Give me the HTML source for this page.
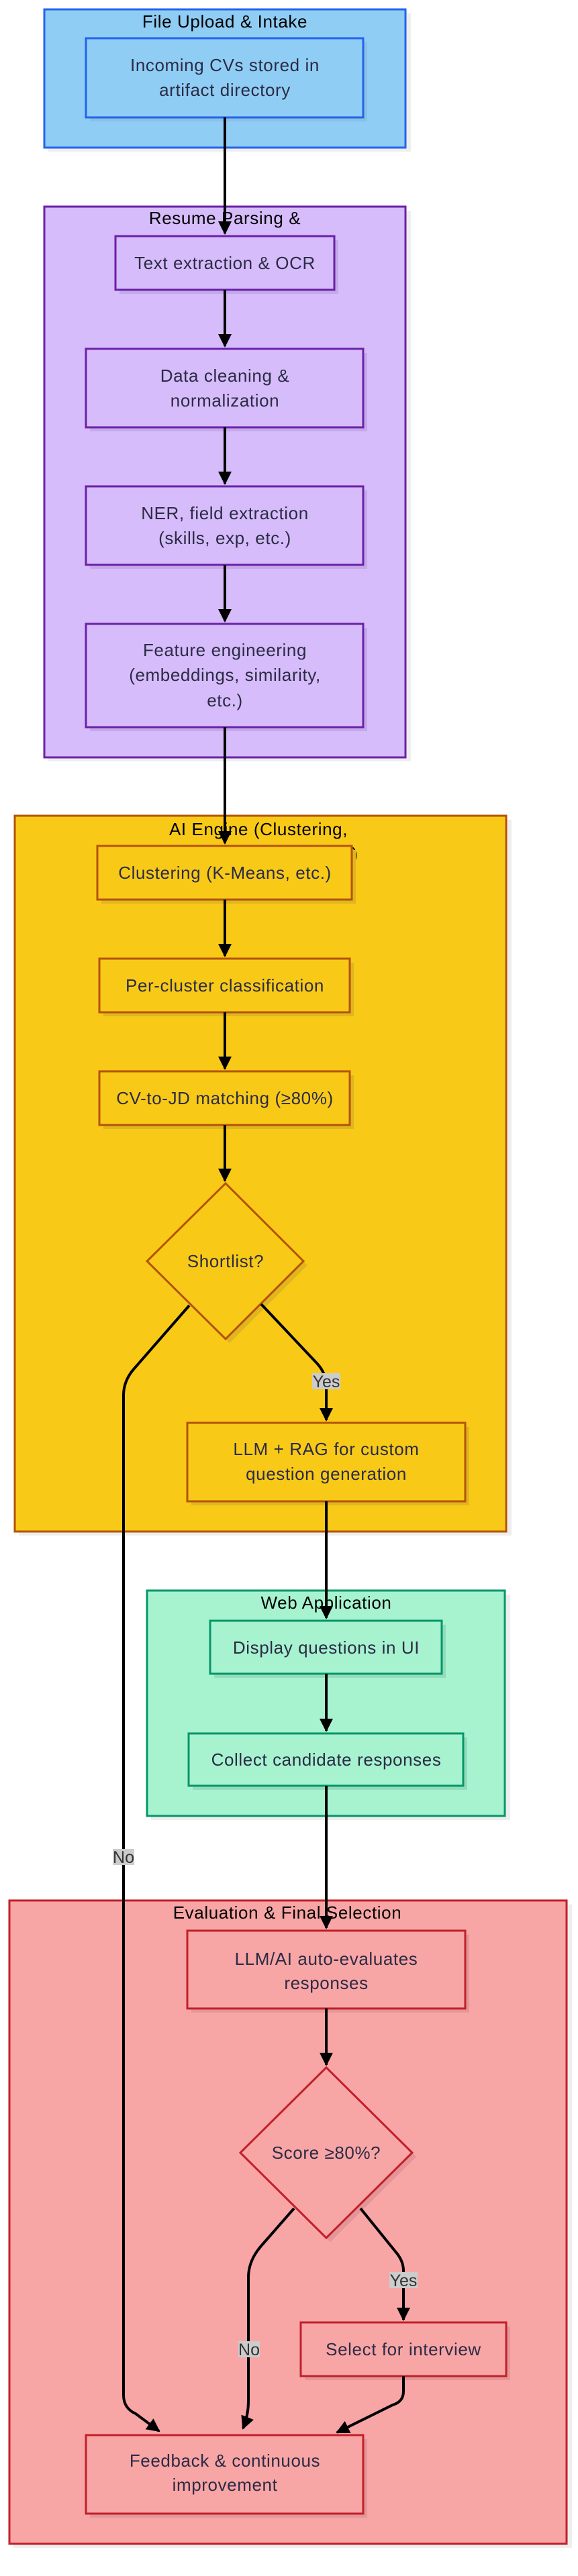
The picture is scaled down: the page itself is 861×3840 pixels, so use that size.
<!DOCTYPE html>
<html><head><meta charset="utf-8"><style>
html,body{margin:0;padding:0;background:#fff;}
svg{display:block;}
text{font-family:"Liberation Sans",sans-serif;}
.n{font-size:26px;fill:#2b2b45;text-anchor:middle;letter-spacing:0.6px;}
.t{font-size:26px;fill:#000;text-anchor:middle;letter-spacing:0.6px;}
.l{font-size:25px;fill:#333;text-anchor:middle;}
.e{stroke:#000;stroke-width:4;fill:none;}
</style></head><body>
<svg width="861" height="3840" viewBox="0 0 861 3840" xmlns="http://www.w3.org/2000/svg">
<defs>
<marker id="a" viewBox="0 0 10 10" refX="9" refY="5" markerWidth="5" markerHeight="5" orient="auto-start-reverse" markerUnits="strokeWidth"><path d="M0,0 L10,5 L0,10 z" fill="#000"/></marker>
</defs>

<g fill="#eeeeee">
<rect x="72" y="20" width="540" height="206"/>
<rect x="72" y="314" width="540" height="821"/>
<rect x="28" y="1222" width="734" height="1067"/>
<rect x="225" y="2377" width="535" height="336"/>
<rect x="20" y="2839" width="832" height="959"/>
</g>

<rect x="66" y="14" width="538" height="206" fill="#90cdf4" stroke="#2563eb" stroke-width="3"/>
<text class="t" x="335" y="41">File Upload &amp; Intake</text>
<rect x="134" y="63" width="413" height="118" fill="#7fb6d8" opacity="0.5"/>
<rect x="128" y="57" width="413" height="118" fill="#90cdf4" stroke="#2563eb" stroke-width="3"/>
<text class="n" x="335" y="106">Incoming CVs stored in</text>
<text class="n" x="335" y="143">artifact directory</text>

<rect x="66" y="308" width="538" height="821" fill="#d6bcfa" stroke="#6b21a8" stroke-width="3"/>
<text class="t" x="335" y="334">Resume Parsing &amp;</text>
<g fill="#c4a9ea">
<rect x="178" y="358" width="326" height="80"/>
<rect x="134" y="526" width="413" height="117"/>
<rect x="134" y="731" width="413" height="117"/>
<rect x="134" y="936" width="413" height="154"/>
</g>
<g fill="#d6bcfa" stroke="#6b21a8" stroke-width="3">
<rect x="172" y="352" width="326" height="80"/>
<rect x="128" y="520" width="413" height="117"/>
<rect x="128" y="725" width="413" height="117"/>
<rect x="128" y="930" width="413" height="154"/>
</g>
<text class="n" x="335" y="401">Text extraction &amp; OCR</text>
<text class="n" x="335" y="569">Data cleaning &amp;</text>
<text class="n" x="335" y="606">normalization</text>
<text class="n" x="335" y="774">NER, field extraction</text>
<text class="n" x="335" y="811">(skills, exp, etc.)</text>
<text class="n" x="335" y="978">Feature engineering</text>
<text class="n" x="335" y="1015">(embeddings, similarity,</text>
<text class="n" x="335" y="1053">etc.)</text>

<rect x="22" y="1216" width="732" height="1067" fill="#f8ca17" stroke="#b45309" stroke-width="3"/>
<text class="t" x="385" y="1245">AI Engine (Clustering,</text>
<text class="t" x="385" y="1282">Classification, Matching)</text>
<g fill="#e0b620">
<rect x="151" y="1267" width="379" height="80"/>
<rect x="154" y="1435" width="373" height="80"/>
<rect x="154" y="1603" width="373" height="80"/>
<polygon points="342,1770 458,1886 342,2002 226,1886"/>
<rect x="285" y="2127" width="414" height="117"/>
</g>
<g fill="#f8ca17" stroke="#b45309" stroke-width="3">
<rect x="145" y="1261" width="379" height="80"/>
<rect x="148" y="1429" width="373" height="80"/>
<rect x="148" y="1597" width="373" height="80"/>
<polygon points="336,1764 452,1880 336,1996 219,1880"/>
<rect x="279" y="2121" width="414" height="117"/>
</g>
<text class="n" x="335" y="1310">Clustering (K-Means, etc.)</text>
<text class="n" x="335" y="1478">Per-cluster classification</text>
<text class="n" x="335" y="1646">CV-to-JD matching (≥80%)</text>
<text class="n" x="336" y="1889">Shortlist?</text>
<text class="n" x="486" y="2169">LLM + RAG for custom</text>
<text class="n" x="486" y="2206">question generation</text>

<rect x="219" y="2371" width="533" height="336" fill="#a7f3d0" stroke="#059669" stroke-width="3"/>
<text class="t" x="486" y="2398">Web Application</text>
<g fill="#93dcbb">
<rect x="319" y="2422" width="345" height="79"/>
<rect x="287" y="2590" width="409" height="78"/>
</g>
<g fill="#a7f3d0" stroke="#059669" stroke-width="3">
<rect x="313" y="2416" width="345" height="79"/>
<rect x="281" y="2584" width="409" height="78"/>
</g>
<text class="n" x="486" y="2465">Display questions in UI</text>
<text class="n" x="486" y="2632">Collect candidate responses</text>

<rect x="14" y="2833" width="830" height="959" fill="#f8a5a5" stroke="#c21f2a" stroke-width="3"/>
<text class="t" x="428" y="2860">Evaluation &amp; Final Selection</text>
<g fill="#e39597">
<rect x="285" y="2884" width="414" height="116"/>
<polygon points="492,3088 620,3215 492,3342 364,3215"/>
<rect x="454" y="3468" width="306" height="80"/>
<rect x="134" y="3636" width="413" height="117"/>
</g>
<g fill="#f8a5a5" stroke="#c21f2a" stroke-width="3">
<rect x="279" y="2878" width="414" height="116"/>
<polygon points="486,3082 614,3209 486,3336 358,3209"/>
<rect x="448" y="3462" width="306" height="80"/>
<rect x="128" y="3630" width="413" height="117"/>
</g>
<text class="n" x="486" y="2929">LLM/AI auto-evaluates</text>
<text class="n" x="486" y="2965">responses</text>
<text class="n" x="486" y="3218">Score ≥80%?</text>
<text class="n" x="601" y="3511">Select for interview</text>
<text class="n" x="335" y="3677">Feedback &amp; continuous</text>
<text class="n" x="335" y="3713">improvement</text>

<path class="e" marker-end="url(#a)" d="M335,175 L335,348"/>
<path class="e" marker-end="url(#a)" d="M335,432 L335,516"/>
<path class="e" marker-end="url(#a)" d="M335,637 L335,721"/>
<path class="e" marker-end="url(#a)" d="M335,842 L335,926"/>
<path class="e" marker-end="url(#a)" d="M335,1084 L335,1257"/>
<path class="e" marker-end="url(#a)" d="M335,1341 L335,1425"/>
<path class="e" marker-end="url(#a)" d="M335,1509 L335,1593"/>
<path class="e" marker-end="url(#a)" d="M335,1677 L335,1760"/>
<path class="e" marker-end="url(#a)" d="M389,1944 L470,2030 Q486,2046 486,2066 L486,2117"/>
<path class="e" marker-end="url(#a)" d="M282,1946 L200,2040 Q184,2058 184,2080 L184,3570 Q184,3590 202,3598 L237,3624"/>
<path class="e" marker-end="url(#a)" d="M486,2238 L486,2412"/>
<path class="e" marker-end="url(#a)" d="M486,2495 L486,2580"/>
<path class="e" marker-end="url(#a)" d="M486,2662 L486,2874"/>
<path class="e" marker-end="url(#a)" d="M486,2994 L486,3078"/>
<path class="e" marker-end="url(#a)" d="M537,3292 L592,3360 Q601,3372 601,3385 L601,3458"/>
<path class="e" marker-end="url(#a)" d="M438,3292 L389,3348 Q370,3370 370,3395 L370,3580 Q370,3600 362,3620"/>
<path class="e" marker-end="url(#a)" d="M601,3542 L601,3565 Q601,3580 585,3585 L502,3626"/>

<rect x="465" y="2047" width="42" height="24" fill="#cccccc"/>
<text class="l" x="486" y="2068">Yes</text>
<rect x="168" y="2756" width="32" height="24" fill="#cccccc"/>
<text class="l" x="184" y="2777">No</text>
<rect x="580" y="3387" width="42" height="24" fill="#cccccc"/>
<text class="l" x="601" y="3408">Yes</text>
<rect x="355" y="3490" width="32" height="24" fill="#cccccc"/>
<text class="l" x="371" y="3511">No</text>
</svg>
</body></html>
